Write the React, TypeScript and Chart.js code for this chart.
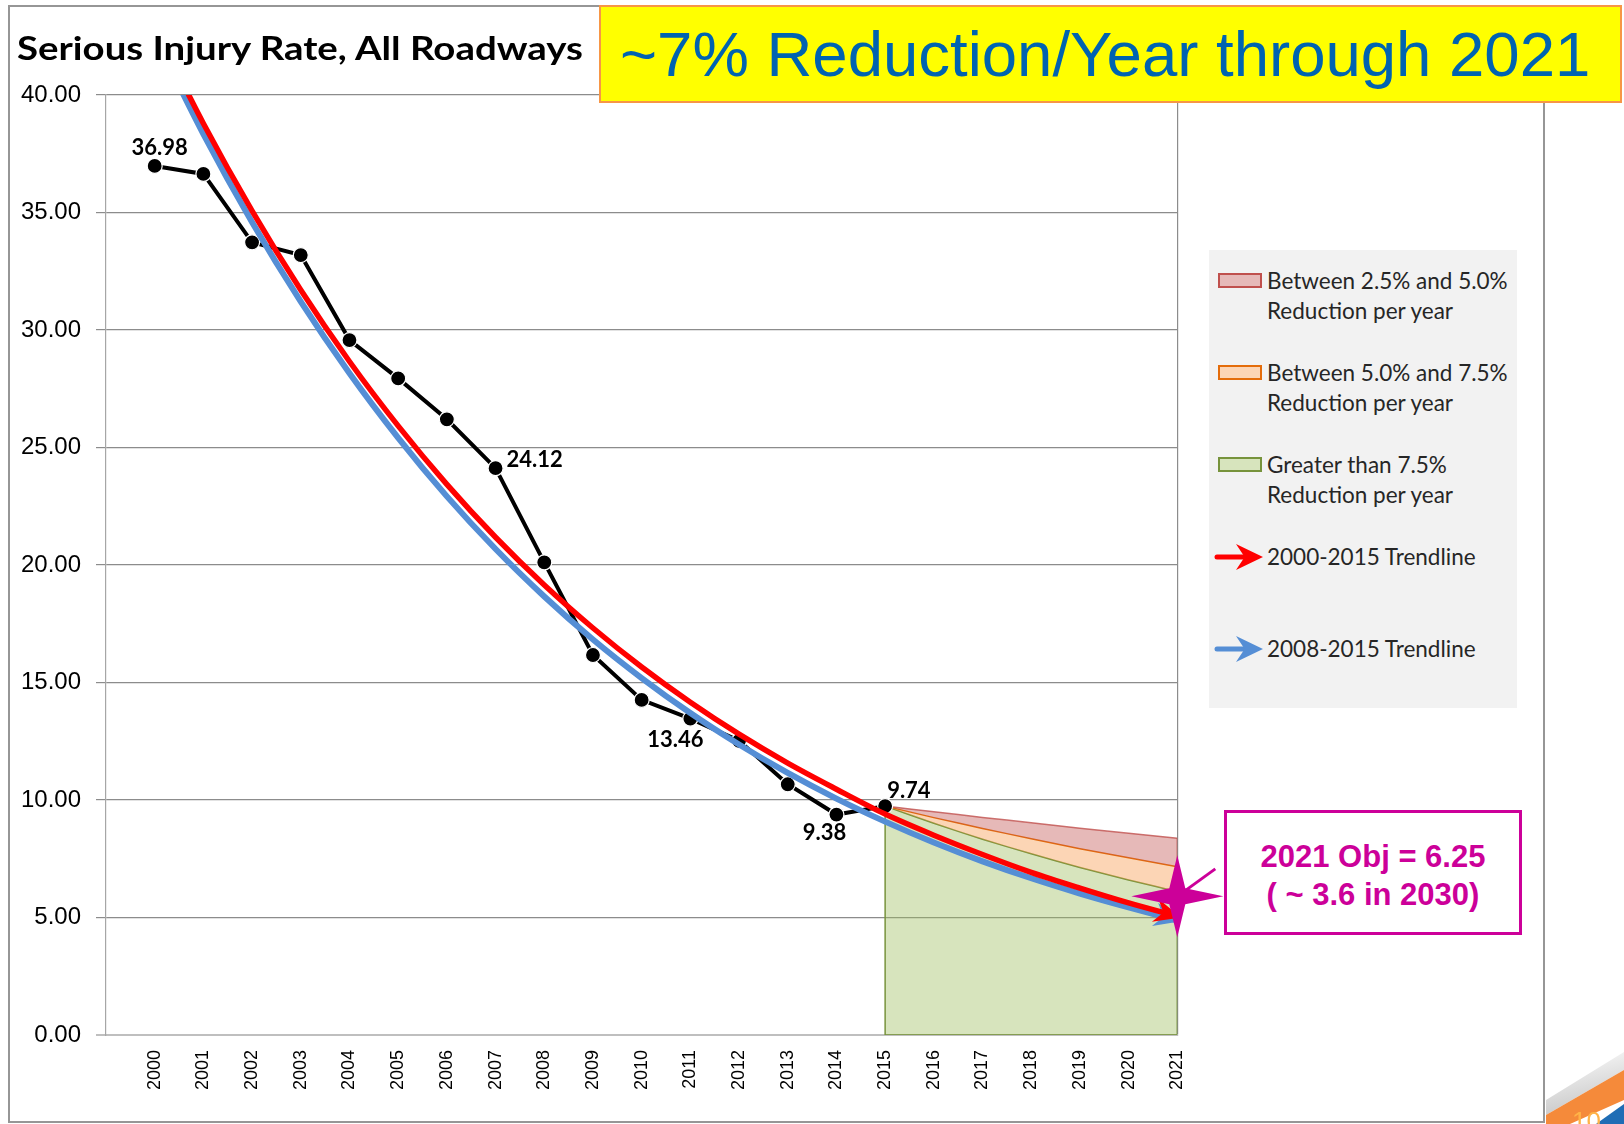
import React, { useEffect, useRef } from 'react';
import { Chart, registerables } from 'chart.js';

Chart.register(...registerables);

// ---------- DATA ----------
const YEARS = [2000, 2001, 2002, 2003, 2004, 2005, 2006, 2007, 2008, 2009, 2010, 2011, 2012, 2013, 2014, 2015];
const SERIOUS_INJURY_RATE = [36.98, 36.64, 33.73, 33.19, 29.57, 27.94, 26.2, 24.12, 20.11, 16.17, 14.26, 13.46, 12.52, 10.67, 9.38, 9.74];
const LABELED_YEARS = [2000, 2007, 2011, 2014, 2015];

const TREND_YEARS = [2000, 2001, 2002, 2003, 2004, 2005, 2006, 2007, 2008, 2009, 2010, 2011, 2012, 2013, 2014, 2015, 2016, 2017, 2018, 2019, 2020, 2021];
const TREND_2000_2015 = [42.9, 38.79, 35.07, 31.7, 28.66, 25.92, 23.43, 21.18, 19.15, 17.32, 15.66, 14.16, 12.8, 11.57, 10.46, 9.4, 8.5, 7.68, 6.92, 6.25, 5.62, 5.05];
const TREND_2008_2015 = [42.5, 38.34, 34.59, 31.21, 28.16, 25.41, 22.92, 20.68, 18.66, 16.83, 15.19, 13.7, 12.36, 11.15, 10.06, 9.08, 8.19, 7.39, 6.67, 6.02, 5.43, 4.88];

const PROJECTION_YEARS = [2015, 2016, 2017, 2018, 2019, 2020, 2021];
const REDUCTION_2_5_PCT = [9.74, 9.5, 9.26, 9.03, 8.8, 8.58, 8.37];
const REDUCTION_5_0_PCT = [9.74, 9.25, 8.79, 8.35, 7.93, 7.54, 7.16];
const REDUCTION_7_5_PCT = [9.74, 9.01, 8.33, 7.71, 7.13, 6.6, 6.1];

const X_AXIS_MIN = 1999;
const X_AXIS_MAX = 2021;
const Y_AXIS_MIN = 0;
const Y_AXIS_MAX = 40;
const Y_AXIS_STEP = 5;

const OBJECTIVE_YEAR = 2021;
const OBJECTIVE_MARKER_VALUE = 5.9;

const TITLE = 'Serious Injury Rate, All Roadways';
const BANNER = '~7% Reduction/Year through 2021';
const CALLOUT_LINES = ['2021 Obj = 6.25', '( ~ 3.6 in 2030)'];
const LEGEND_BANDS = [
  { lines: ['Between 2.5% and 5.0%', 'Reduction per year'], fill: '#E6B9B8', stroke: '#C0504D' },
  { lines: ['Between 5.0% and 7.5%', 'Reduction per year'], fill: '#FCD5B5', stroke: '#E46C0A' },
  { lines: ['Greater than 7.5%', 'Reduction per year'], fill: '#D7E4BD', stroke: '#77933C' },
];
const LEGEND_TRENDS = [
  { label: '2000-2015 Trendline', color: '#FF0000' },
  { label: '2008-2015 Trendline', color: '#558ED5' },
];

// ---------- STYLE ----------
const MAGENTA = '#CC0099';
const CALIBRI_LIKE = 'Lato, "Open Sans", sans-serif';
const ARIAL_LIKE = '"Liberation Sans", Arial, sans-serif';

const LABEL_PLACEMENT: Record<number, { dx: number; dy: number; align: CanvasTextAlign }> = {
  2000: { dx: 5, dy: -18, align: 'center' },
  2007: { dx: 11, dy: -8, align: 'left' },
  2011: { dx: -15, dy: 21, align: 'center' },
  2014: { dx: -12, dy: 18, align: 'center' },
  2015: { dx: 2, dy: -15, align: 'left' },
};

function drawStealth(ctx: CanvasRenderingContext2D, fx: number, fy: number, tx: number, ty: number, color: string, len: number, half: number) {
  const ang = Math.atan2(ty - fy, tx - fx);
  ctx.save();
  ctx.translate(tx, ty);
  ctx.rotate(ang);
  ctx.translate(4, 0);
  ctx.beginPath();
  ctx.moveTo(0, 0);
  ctx.lineTo(-len, -half);
  ctx.lineTo(-len * 0.68, 0);
  ctx.lineTo(-len, half);
  ctx.closePath();
  ctx.fillStyle = color;
  ctx.fill();
  ctx.restore();
}

const DATA_INDEX = 5;

const annotationPlugin = {
  id: 'annotations',
  afterDatasetDraw(chart: any, args: any) {
    const ds = chart.data.datasets[args.index];
    if (!ds.arrowHead) return;
    const pts = args.meta.data;
    const a = pts[pts.length - 2];
    const b = pts[pts.length - 1];
    drawStealth(chart.ctx, a.x, a.y, b.x, b.y, ds.borderColor, 27, 12);
  },
  afterDatasetsDraw(chart: any) {
    const ctx: CanvasRenderingContext2D = chart.ctx;
    const meta = chart.getDatasetMeta(DATA_INDEX);
    ctx.save();
    ctx.font = `bold 22px ${CALIBRI_LIKE}`;
    ctx.fillStyle = '#000';
    ctx.textBaseline = 'middle';
    LABELED_YEARS.forEach((yr) => {
      const i = YEARS.indexOf(yr);
      const p = meta.data[i];
      const pl = LABEL_PLACEMENT[yr];
      ctx.textAlign = pl.align;
      ctx.fillText(SERIOUS_INJURY_RATE[i].toFixed(2), p.x + pl.dx, p.y + pl.dy);
    });
    ctx.restore();
  },
  afterDraw(chart: any) {
    const ctx: CanvasRenderingContext2D = chart.ctx;
    const x = chart.scales.x.getPixelForValue(OBJECTIVE_YEAR);
    const y = chart.scales.y.getPixelForValue(OBJECTIVE_MARKER_VALUE);
    ctx.save();
    ctx.strokeStyle = MAGENTA;
    ctx.lineWidth = 3;
    ctx.beginPath();
    ctx.moveTo(x + 38, y - 27.5);
    ctx.lineTo(x, y);
    ctx.stroke();
    const outer = [
      [0, -41], [46, 0], [0, 41], [-46, 0],
    ];
    const inner = 8;
    ctx.beginPath();
    for (let k = 0; k < 4; k++) {
      const o = outer[k];
      const n = outer[(k + 1) % 4];
      if (k === 0) ctx.moveTo(x + o[0], y + o[1]);
      const mx = Math.sign(o[0] + n[0]) * inner;
      const my = Math.sign(o[1] + n[1]) * inner;
      ctx.lineTo(x + mx, y + my);
      ctx.lineTo(x + n[0], y + n[1]);
    }
    ctx.closePath();
    ctx.fillStyle = MAGENTA;
    ctx.fill();
    ctx.restore();
  },
};

export default function App() {
  const ref = useRef<HTMLCanvasElement>(null);

  useEffect(() => {
    const canvas = ref.current;
    if (!canvas) return;
    const xy = (xs: number[], ys: number[]) => xs.map((x, i) => ({ x, y: ys[i] }));
    const last = PROJECTION_YEARS.length - 1;
    const firstP = PROJECTION_YEARS[0];
    const lastP = PROJECTION_YEARS[last];

    const chart = new Chart(canvas, {
      type: 'line',
      data: {
        datasets: [
          {
            label: 'Greater than 7.5% Reduction per year',
            data: xy(PROJECTION_YEARS, REDUCTION_7_5_PCT),
            fill: 'origin',
            backgroundColor: 'rgba(155,187,89,0.4)',
            borderColor: '#77933C',
            borderWidth: 1.5,
            pointRadius: 0,
            tension: 0.2,
            order: 10,
          },
          {
            label: 'Between 5.0% and 7.5% Reduction per year',
            data: xy(PROJECTION_YEARS, REDUCTION_5_0_PCT),
            fill: '-1',
            backgroundColor: 'rgba(247,150,70,0.4)',
            borderColor: '#E46C0A',
            borderWidth: 1.5,
            pointRadius: 0,
            tension: 0.2,
            order: 9,
          },
          {
            label: 'Between 2.5% and 5.0% Reduction per year',
            data: xy(PROJECTION_YEARS, REDUCTION_2_5_PCT),
            fill: '-1',
            backgroundColor: 'rgba(192,80,77,0.4)',
            borderColor: 'rgba(192,80,77,0.8)',
            borderWidth: 1.5,
            pointRadius: 0,
            tension: 0.2,
            order: 8,
          },
          {
            label: 'green outline',
            data: [
              { x: firstP, y: REDUCTION_7_5_PCT[0] },
              { x: firstP, y: Y_AXIS_MIN },
              { x: lastP, y: Y_AXIS_MIN },
              { x: lastP, y: REDUCTION_7_5_PCT[last] },
            ],
            fill: false,
            borderColor: '#77933C',
            borderWidth: 1.5,
            pointRadius: 0,
            order: 7,
          },
          {
            label: 'red outline',
            data: [
              { x: lastP, y: REDUCTION_2_5_PCT[last] },
              { x: lastP, y: REDUCTION_5_0_PCT[last] },
            ],
            fill: false,
            borderColor: 'rgba(192,80,77,0.8)',
            borderWidth: 1.5,
            pointRadius: 0,
            order: 7,
          },
          {
            label: 'Serious Injury Rate',
            data: xy(YEARS, SERIOUS_INJURY_RATE),
            fill: false,
            borderColor: '#000000',
            borderWidth: 4,
            pointRadius: 7.5,
            pointBackgroundColor: '#000000',
            pointBorderColor: '#FFFFFF',
            pointBorderWidth: 1.2,
            tension: 0,
            order: 5,
          },
          {
            label: '2008-2015 Trendline',
            data: xy(TREND_YEARS, TREND_2008_2015),
            fill: false,
            borderColor: '#558ED5',
            borderWidth: 6,
            pointRadius: 0,
            cubicInterpolationMode: 'monotone',
            order: 3,
            arrowHead: true,
          } as any,
          {
            label: '2000-2015 Trendline',
            data: xy(TREND_YEARS, TREND_2000_2015),
            fill: false,
            borderColor: '#FF0000',
            borderWidth: 5.5,
            pointRadius: 0,
            cubicInterpolationMode: 'monotone',
            order: 2,
            arrowHead: true,
          } as any,
        ],
      },
      options: {
        responsive: false,
        animation: false,
        devicePixelRatio: 1,
        events: [],
        layout: { padding: { left: 0, right: 446.7, top: 95, bottom: 0 } },
        plugins: {
          legend: { display: false },
          tooltip: { enabled: false },
          title: { display: false },
        },
        scales: {
          x: {
            type: 'linear',
            min: X_AXIS_MIN,
            max: X_AXIS_MAX,
            afterFit: (scale: any) => {
              scale.height = 89;
            },
            ticks: {
              stepSize: 1,
              autoSkip: false,
              maxTicksLimit: 100,
              minRotation: 90,
              maxRotation: 90,
              padding: 15,
              color: '#000',
              font: { family: ARIAL_LIKE, size: 18 },
              callback: (v: any) => (Number(v) >= YEARS[0] ? String(v) : ''),
            },
            grid: {
              drawTicks: false,
              color: (c: any) => (c.tick && c.tick.value === X_AXIS_MAX ? '#8C8C8C' : 'rgba(0,0,0,0)'),
              lineWidth: 1.2,
            },
            border: { display: true, color: '#BFBFBF', width: 2 },
          },
          y: {
            type: 'linear',
            min: Y_AXIS_MIN,
            max: Y_AXIS_MAX,
            afterFit: (scale: any) => {
              scale.width = 106;
            },
            ticks: {
              stepSize: Y_AXIS_STEP,
              padding: 15,
              color: '#000',
              font: { family: ARIAL_LIKE, size: 24 },
              callback: (v: any) => Number(v).toFixed(2),
            },
            grid: {
              color: (c: any) => (c.tick && c.tick.value === Y_AXIS_MIN ? '#BFBFBF' : '#8C8C8C'),
              lineWidth: (c: any) => (c.tick && c.tick.value === Y_AXIS_MIN ? 2 : 1.2),
              tickLength: 10,
            },
            border: { display: true, color: '#A6A6A6', width: 1.2 },
          },
        },
      },
      plugins: [annotationPlugin],
    } as any);

    return () => chart.destroy();
  }, []);

  const stealthPath = (tx: number, ty: number, len: number, half: number) =>
    `M ${tx} ${ty} L ${tx - len} ${ty - half} L ${tx - len * 0.68} ${ty} L ${tx - len} ${ty + half} Z`;

  return (
    <div style={{ position: 'absolute', left: 0, top: 0, width: 1624, height: 1124, background: '#FFFFFF', overflow: 'hidden' }}>
      {/* outer frame */}
      <div style={{ position: 'absolute', left: 8, top: 5, width: 1537, height: 1118, border: '2px solid #969696', boxSizing: 'border-box' }} />
      <canvas ref={ref} width={1624} height={1124} style={{ position: 'absolute', left: 0, top: 0 }} />

      {/* title */}
      <div style={{ position: 'absolute', left: 17, top: 27, height: 42, lineHeight: '42px', fontFamily: CALIBRI_LIKE, fontWeight: 700, fontSize: 32, color: '#000', whiteSpace: 'nowrap', transform: 'scaleX(1.2)', transformOrigin: 'left center' }}>
        {TITLE}
      </div>

      {/* banner */}
      <div style={{ position: 'absolute', left: 599, top: 5, width: 1023, height: 98, background: '#FFFF00', border: '2px solid #F79646', boxSizing: 'border-box', display: 'flex', alignItems: 'center', paddingLeft: 19, fontFamily: ARIAL_LIKE, fontSize: 63.5, color: '#0063B0', whiteSpace: 'nowrap' }}>
        {BANNER}
      </div>

      {/* legend */}
      <div style={{ position: 'absolute', left: 1209, top: 250, width: 308, height: 458, background: '#F2F2F2' }} />
      {LEGEND_BANDS.map((b, i) => {
        const top = 273 + i * 92;
        return (
          <React.Fragment key={i}>
            <div style={{ position: 'absolute', left: 1218, top, width: 44, height: 15, background: b.fill, border: `2px solid ${b.stroke}`, boxSizing: 'border-box' }} />
            <div style={{ position: 'absolute', left: 1267, top: top - 7, fontFamily: CALIBRI_LIKE, fontSize: 22.5, lineHeight: '30px', color: '#262626', whiteSpace: 'nowrap' }}>
              {b.lines.map((l, k) => (
                <div key={k}>{l}</div>
              ))}
            </div>
          </React.Fragment>
        );
      })}
      {LEGEND_TRENDS.map((t, i) => {
        const cy = 557 + i * 91.5;
        return (
          <React.Fragment key={i}>
            <svg style={{ position: 'absolute', left: 1210, top: cy - 20, overflow: 'visible' }} width={60} height={40}>
              <line x1={7} y1={20} x2={38} y2={20} stroke={t.color} strokeWidth={5} strokeLinecap="round" />
              <path d={stealthPath(53, 20, 27, 13)} fill={t.color} />
            </svg>
            <div style={{ position: 'absolute', left: 1267, top: cy - 15, fontFamily: CALIBRI_LIKE, fontSize: 22.5, lineHeight: '30px', color: '#262626', whiteSpace: 'nowrap' }}>
              {t.label}
            </div>
          </React.Fragment>
        );
      })}

      {/* callout */}
      <div style={{ position: 'absolute', left: 1224, top: 810, width: 298, height: 125, border: `3px solid ${MAGENTA}`, boxSizing: 'border-box', background: '#FFFFFF', display: 'flex', flexDirection: 'column', alignItems: 'center', justifyContent: 'center', paddingTop: 6, fontFamily: ARIAL_LIKE, fontWeight: 700, fontSize: 31, lineHeight: '38px', color: MAGENTA, whiteSpace: 'nowrap' }}>
        {CALLOUT_LINES.map((l, k) => (
          <div key={k}>{l}</div>
        ))}
      </div>

      {/* slide corner decoration */}
      <svg style={{ position: 'absolute', left: 1546, top: 1030 }} width={78} height={94}>
        <defs>
          <linearGradient id="shade" x1="0" y1="0" x2="0.3" y2="1">
            <stop offset="0" stopColor="#FFFFFF" />
            <stop offset="1" stopColor="#C8C8C8" />
          </linearGradient>
        </defs>
        <polygon points="0,70 78,22 78,40 0,85" fill="url(#shade)" />
        <polygon points="0,85 78,40 78,70 24,94 0,94" fill="#F58A3A" />
        <polygon points="50,94 78,74 78,94" fill="#1F6DB5" />
        <text x={26} y={100} fontFamily={ARIAL_LIKE} fontSize={26} fill="#FFB347">10</text>
      </svg>
    </div>
  );
}
